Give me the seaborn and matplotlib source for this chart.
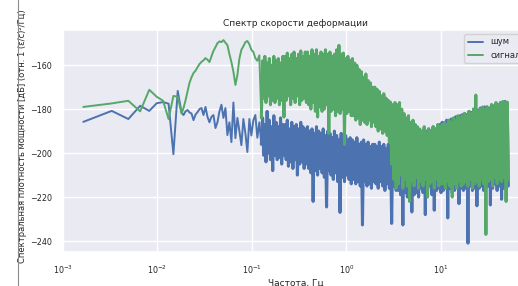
import numpy as np
import pandas as pd
import seaborn as sns
import matplotlib.pyplot as plt
from matplotlib.lines import Line2D

# ---- data ----
# first FFT bins (Hz)
f_low = [0.00164, 0.00328, 0.00492, 0.00656, 0.0082, 0.00984, 0.01148, 0.01312, 0.01476, 0.0164]
noise_low = [-185.8, -180.8, -184.5, -178.5, -180.8, -177.3, -176.8, -177.5, -200.5, -171.7]
signal_low = [-179.0, -177.4, -176.2, -181.0, -171.2, -174.4, -176.2, -184.5, -174.0, -174.4]

# 0.018 .. 0.126 Hz, 41 samples
f_mid = np.geomspace(0.018, 0.126, 41)
noise_mid = [-181.5, -182.7, -181.0, -180.4, -181.5, -182.0, -185.0, -182.5, -181.4, -180.0,
             -179.5, -182.7, -179.0, -183.5, -186.0, -183.5, -182.7, -188.6, -186.0, -181.0,
             -178.0, -184.0, -179.5, -191.8, -186.0, -195.0, -177.0, -193.2, -184.0, -190.0,
             -196.4, -184.5, -191.0, -199.5, -184.5, -192.0, -185.0, -182.7, -193.0, -186.0,
             -196.0]
signal_mid = [-182.0, -179.5, -176.0, -172.0, -168.0, -165.5, -163.6, -162.5, -161.0, -159.5,
              -158.5, -157.8, -156.8, -157.5, -158.6, -156.0, -153.5, -151.8, -150.0, -149.2,
              -149.5, -148.6, -149.8, -150.9, -155.0, -158.6, -163.0, -169.0, -164.5, -157.0,
              -153.0, -151.4, -149.5, -149.0, -150.5, -153.0, -154.0, -156.8, -158.0, -155.5,
              -184.0]

# 0.13 .. 52 Hz, dense part: upper / lower edge of the noisy band
f_hi = np.geomspace(0.13, 52, 220)
noise_top = [
    -184, -187, -181, -185, -188, -183, -186, -188, -184, -187,
    -187, -185, -189, -186, -188, -187, -189, -186, -188, -189,
    -188, -190, -189, -191, -188, -190, -191, -189, -192, -190,
    -191, -193, -190, -192, -194, -191, -193, -192, -194, -193,
    -194, -195, -193, -196, -195, -194, -196, -195, -197, -196,
    -196, -197, -195, -197, -196, -198, -196, -197, -195, -196,
    -195, -194, -195, -193, -194, -192, -193, -191, -192, -190,
    -190, -191, -189, -190, -189, -190, -188, -189, -188, -187,
    -186, -187, -185, -186, -184.5, -185, -183.5, -184, -183, -182.5,
    -182, -182.5, -181, -181.5, -180, -181, -180.5, -179.5, -180, -179,
    -179, -179.5, -178, -178.5, -177.5, -178, -177, -177.5, -176.5, -177]
noise_bottom = [
    -201, -204, -200, -203, -208, -201, -203, -202, -205, -201,
    -203, -206, -204, -207, -203, -210, -205, -204, -207, -205,
    -207, -209, -222, -208, -210, -207, -209, -211, -224.5, -208,
    -210, -212, -209, -213, -227, -211, -213, -210, -212, -214,
    -212, -214, -213, -215, -232.7, -213, -215, -214, -216, -213,
    -214, -216, -213, -215, -217, -214, -216, -232, -215, -217,
    -217, -219, -232.7, -218, -220, -217, -226.8, -219, -218, -220,
    -216, -218, -228, -217, -215, -219, -226, -217, -216, -218,
    -217, -215, -229.5, -216, -218, -217, -215, -223, -216, -217,
    -216, -241, -215, -217, -216, -224, -216, -215, -217, -216,
    -215, -223.6, -216, -214, -217, -215, -221, -216, -214, -215]
signal_top = [
    -158, -156, -159, -157, -160, -156, -158, -157, -159, -156,
    -156, -154.5, -157, -155, -154, -157, -155, -153.5, -156, -154,
    -154, -156, -153, -155, -153, -156, -154, -155, -153, -155,
    -154, -156, -155, -153, -151, -155, -154.5, -157, -156, -158,
    -157, -159, -160, -162, -163, -165.5, -164, -167, -168, -170,
    -170, -171, -172, -174, -173, -175, -176, -176.8, -178, -177,
    -178, -177, -180, -182, -184, -183, -186, -185, -187, -188,
    -189, -190, -188, -190.5, -189, -190, -188, -189, -187, -188,
    -187, -186, -187, -185, -186, -184, -185, -183, -184, -183,
    -182, -183, -181, -182, -180, -173.6, -181, -180, -179, -180,
    -179, -180, -178, -179, -177, -178, -177, -176.5, -177, -176.8]
signal_bottom = [
    -175, -177, -174, -178, -176, -177, -175, -178, -176, -183.6,
    -176, -174, -178, -175, -177, -174, -178, -176, -175, -177,
    -178, -180, -177, -181, -183.6, -179, -181, -180, -178, -191,
    -181, -180, -183, -181, -182, -180, -196, -182, -181, -183,
    -183, -185, -184, -187, -185, -186, -187, -185, -188, -186,
    -188, -190, -189, -191, -190, -192, -195, -205, -212, -216,
    -214, -210, -216, -212, -215, -222, -213, -215, -211, -216,
    -213, -215, -212, -220, -214, -213, -216, -212, -215, -214,
    -214, -216, -213, -215, -220, -214, -216, -213, -215, -214,
    -213, -215, -212, -216, -214, -213, -215, -212, -214, -237,
    -213, -212, -215, -211, -214, -212, -213, -211, -222, -212]


def build(low, mid, top, bottom):
    dense = np.empty(2 * len(top))
    dense[0::2] = top
    dense[1::2] = bottom
    f = np.concatenate([f_low, f_mid, f_hi])
    return pd.DataFrame({"f": f, "db": np.concatenate([low, mid, dense])})


noise_df = build(noise_low, noise_mid, noise_top, noise_bottom)
signal_df = build(signal_low, signal_mid, signal_top, signal_bottom)
n_sparse = len(f_low) + len(f_mid)

sns.set_theme(style="darkgrid")
plt.rcParams["path.simplify"] = False

fig = plt.figure(figsize=(5.18, 2.86), dpi=100)
ax = fig.add_axes([63 / 518, 1 - 252 / 286, (528 - 63) / 518, (252 - 30) / 286])

for df, color, name in [(noise_df, "#4c72b0", "шум"), (signal_df, "#55a868", "сигнал")]:
    # sparse low-frequency part
    sns.lineplot(data=df.iloc[:n_sparse], x="f", y="db", estimator=None, sort=False,
                 color=color, lw=1.4, label=name, ax=ax)
    # dense part drawn a bit thicker so the strokes merge into a band
    sns.lineplot(data=df.iloc[n_sparse - 1:], x="f", y="db", estimator=None, sort=False,
                 color=color, lw=2.2, ax=ax)

ax.set_xscale("log")
ax.set_xlim(1e-3, 84)
ax.set_ylim(-245, -144)

ax.set_title("Спектр скорости деформации", fontsize=6.5, pad=3)
ax.set_xlabel("Частота, Гц", fontsize=6.5, labelpad=2)
ax.set_ylabel("Спектральная плотность мощности [дБ] (отн. 1 (ε/с)²/Гц)", fontsize=6.0)
ax.yaxis.set_label_coords(-0.077, 0.52)
ax.tick_params(labelsize=5.8, pad=2)
ax.legend(loc="upper right", fontsize=6, handlelength=1.9)

# frame line at the left edge of the screenshot
fig.add_artist(Line2D([18 / 518, 18 / 518], [0, 1], color="#8c8c8c", lw=0.8))

fig.savefig("out.png", dpi=100)
